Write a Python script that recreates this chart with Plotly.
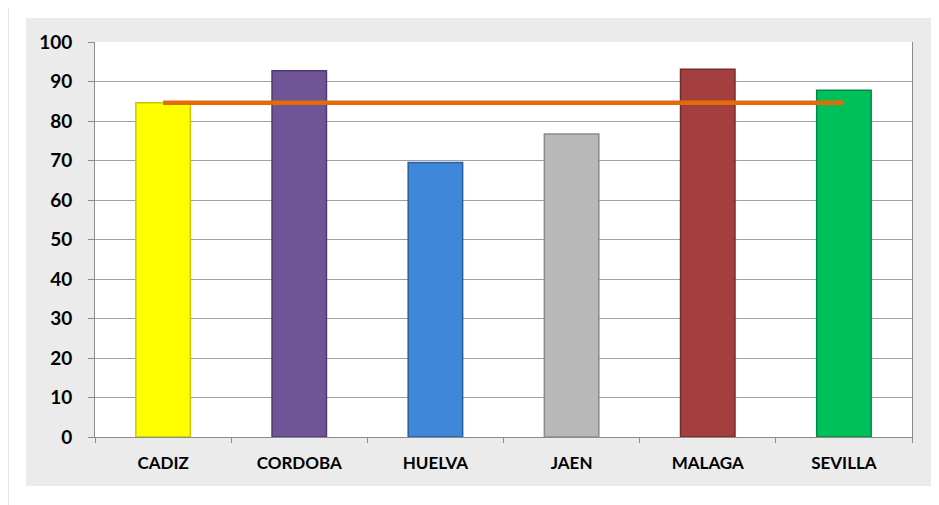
import plotly.graph_objects as go

categories = ["CADIZ", "CORDOBA", "HUELVA", "JAEN", "MALAGA", "SEVILLA"]
values = [84.6, 92.7, 69.5, 76.7, 93.1, 87.8]
average = [84.6, 84.6, 84.6, 84.6, 84.6, 84.6]
bar_colors = ["#ffff00", "#6f5597", "#3f87d8", "#b8b8b8", "#a3403f", "#00c05a"]
edge_colors = ["#c8c800", "#4e3a6e", "#2a5f9e", "#8a8a8a", "#732b2b", "#00874a"]
y_ticks = [0, 10, 20, 30, 40, 50, 60, 70, 80, 90, 100]

W, H = 939, 505
OFF = 8  # page body margin
L, R, T, B = 95 - OFF, 912 - OFF, 42 - OFF, 437 - OFF
pw, ph = R - L, B - T

def px(x):
    return (x - OFF - L) / pw

def py(y):
    return (B - (y - OFF)) / ph

fig = go.Figure()
fig.add_trace(go.Bar(
    x=categories, y=values,
    marker=dict(color=bar_colors, line=dict(color=edge_colors, width=1.5)),
    showlegend=False,
))
fig.add_trace(go.Scatter(
    x=categories, y=average, mode="lines",
    line=dict(color="#e36c0a", width=4.5),
    showlegend=False,
))

shapes = [
    dict(type="rect", xref="paper", yref="paper", x0=px(26), x1=px(935), y0=py(486), y1=py(18),
         fillcolor="#ebebeb", line=dict(width=0), layer="below"),
    dict(type="rect", xref="paper", yref="paper", x0=0, x1=1, y0=0, y1=1,
         fillcolor="#ffffff", line=dict(width=0), layer="below"),
    dict(type="line", xref="paper", yref="paper", x0=px(8.5), x1=px(8.5), y0=py(505), y1=py(8),
         line=dict(color="#e6e6e6", width=1), layer="below"),
]

fig.update_layout(
    width=W, height=H,
    margin=dict(l=L, r=W - R, t=T, b=H - B),
    paper_bgcolor="#ffffff",
    plot_bgcolor="#ffffff",
    bargap=0.6,
    shapes=shapes,
    font=dict(family="Lato, 'Open Sans', sans-serif", color="#000000"),
)
fig.update_xaxes(
    type="category",
    showline=True, linecolor="#8c8c8c", linewidth=1,
    ticks="outside", tickson="boundaries", ticklen=5, tickcolor="#8c8c8c",
    tickfont=dict(size=17, family="Lato, sans-serif", weight="bold"),
    ticklabelstandoff=11,
    showgrid=False,
)
fig.update_yaxes(
    range=[0, 100], tickvals=y_ticks,
    showline=True, linecolor="#8c8c8c", linewidth=1, mirror=True,
    ticks="outside", ticklen=6, tickcolor="#8c8c8c",
    tickfont=dict(size=19, family="Lato, sans-serif", weight="bold"),
    ticklabelstandoff=12,
    showgrid=True, gridcolor="#a0a0a0", gridwidth=1,
    zeroline=False,
)

fig.write_html("out.html")
